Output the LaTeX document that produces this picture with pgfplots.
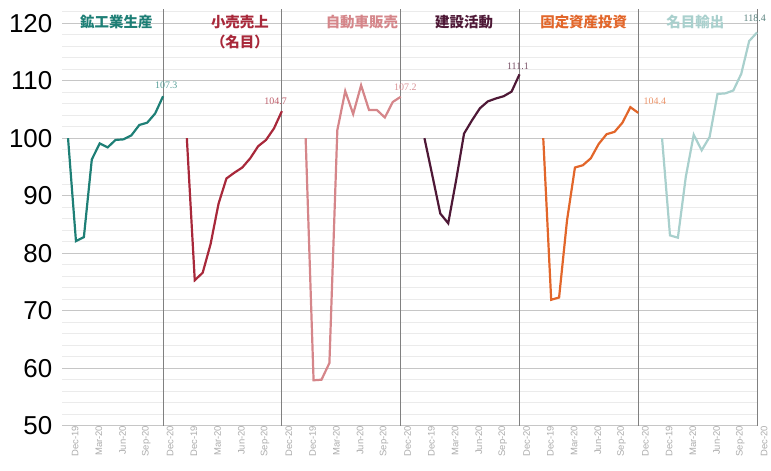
\documentclass[border=0pt]{standalone}
\usepackage{fontspec}
\setmainfont{Liberation Sans}
\newfontfamily\cjk{Noto Sans CJK JP}
\newfontfamily\numserif{Liberation Serif}
\usepackage{pgfplots}
\pgfplotsset{compat=1.18}
\definecolor{cA}{HTML}{1E7F76}
\definecolor{cB}{HTML}{A8283A}
\definecolor{cC}{HTML}{D5868A}
\definecolor{cD}{HTML}{4E1836}
\definecolor{cE}{HTML}{E2662A}
\definecolor{cF}{HTML}{A9D0CD}
\begin{document}
\begin{tikzpicture}
\begin{axis}[
  scale only axis, width=694.6bp, height=416.3bp,
  xmin=-0.7, xmax=87, ymin=50, ymax=122.4,
  clip=false,
  axis line style={draw=none},
  tick style={draw=none},
  ytick={50,60,...,120},
  minor ytick={52,54,...,122},
  ymajorgrids, yminorgrids,
  major grid style={gray!45, line width=0.6bp},
  minor grid style={gray!16, line width=0.6bp},
  /pgf/number format/assume math mode=true,
  yticklabel style={font=\fontsize{26}{26}\selectfont, inner sep=0pt, xshift=-10bp},
  xtick={0,3,...,87},
  xticklabels={Dec-19,Mar-20,Jun-20,Sep-20,Dec-20,Dec-19,Mar-20,Jun-20,Sep-20,Dec-20,Dec-19,Mar-20,Jun-20,Sep-20,Dec-20,Dec-19,Mar-20,Jun-20,Sep-20,Dec-20,Dec-19,Mar-20,Jun-20,Sep-20,Dec-20,Dec-19,Mar-20,Jun-20,Sep-20,Dec-20},
  xticklabel style={rotate=90, anchor=east, font=\fontsize{9.5}{9.5}\selectfont, text=gray!65, inner sep=0pt, yshift=-7bp},
  extra x ticks={12,27,42,57,72,87},
  extra x tick labels={},
  extra x tick style={grid=major, major grid style={black!50, line width=0.9bp}},
]
% 鉱工業生産
\addplot[cA, line width=2.2bp] coordinates {(0,100) (1,82.1) (2,82.8) (3,96.3) (4,99.1) (5,98.4) (6,99.7) (7,99.8) (8,100.5) (9,102.3) (10,102.7) (11,104.3) (12,107.3)};
% 小売売上（名目）
\addplot[cB, line width=2.2bp] coordinates {(15,100) (16,75.3) (17,76.6) (18,81.6) (19,88.6) (20,93) (21,94) (22,94.9) (23,96.5) (24,98.6) (25,99.7) (26,101.7) (27,104.7)};
% 自動車販売
\addplot[cC, line width=2.2bp] coordinates {(30,100) (31,57.9) (32,58) (33,60.9) (34,101.4) (35,108.2) (36,104.2) (37,109.2) (38,104.9) (39,104.9) (40,103.6) (41,106.3) (42,107.2)};
% 建設活動
\addplot[cD, line width=2.2bp] coordinates {(45,100) (46,93.5) (47,86.9) (48,85.2) (49,92.7) (50,100.8) (51,103.1) (52,105.2) (53,106.4) (54,106.9) (55,107.3) (56,108.1) (57,111.1)};
% 固定資産投資
\addplot[cE, line width=2.2bp] coordinates {(60,100) (61,71.9) (62,72.3) (63,85.7) (64,94.9) (65,95.3) (66,96.5) (67,99) (68,100.7) (69,101.1) (70,102.7) (71,105.4) (72,104.4)};
% 名目輸出
\addplot[cF, line width=2.2bp] coordinates {(75,100) (76,83.1) (77,82.7) (78,93.3) (79,100.6) (80,97.9) (81,100.2) (82,107.7) (83,107.8) (84,108.3) (85,111.2) (86,116.9) (87,118.4)};

\begin{scope}[every node/.style={font=\numserif\fontsize{10}{10}\selectfont, inner sep=0pt}]
\node[text=cA!75] at (axis cs:12.4,109.2) {107.3};
\node[text=cB!75] at (axis cs:26.2,106.4) {104.7};
\node[text=cC!90] at (axis cs:42.6,108.9) {107.2};
\node[text=cD!75] at (axis cs:56.8,112.5) {111.1};
\node[text=cE!70] at (axis cs:74.1,106.4) {104.4};
\node[text=cA!60!black!70] at (axis cs:86.7,120.9) {118.4};
\end{scope}

\begin{scope}[every node/.style={font=\cjk\bfseries\fontsize{14.5}{20}\selectfont, inner sep=0pt, align=center}]
\node[text=cA] at (axis cs:6.1,120.2) {鉱工業生産};
\node[text=cB] at (axis cs:21.7,118.4) {小売売上\\（名目）};
\node[text=cC] at (axis cs:37.1,120.2) {自動車販売};
\node[text=cD] at (axis cs:50.0,120.2) {建設活動};
\node[text=cE] at (axis cs:65.1,120.2) {固定資産投資};
\node[text=cF] at (axis cs:79.2,120.2) {名目輸出};
\end{scope}
\end{axis}
\pgfresetboundingbox
\path (current axis.south west) ++(-62.5bp,-45.3bp) rectangle ++(771bp,471bp);
\end{tikzpicture}
\end{document}
